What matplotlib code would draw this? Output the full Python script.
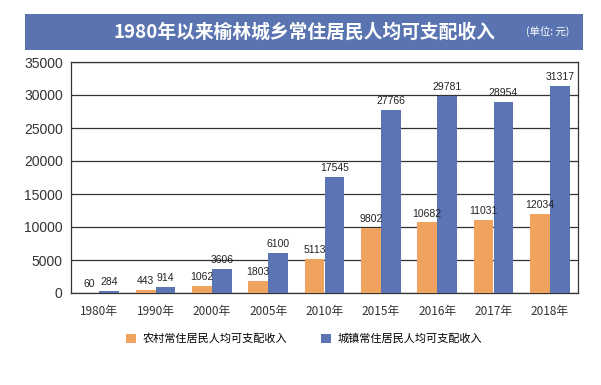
import matplotlib
matplotlib.use("Agg")
import matplotlib.pyplot as plt
import numpy as np
from matplotlib.patches import Rectangle

plt.rcParams['font.family'] = ['Noto Sans CJK SC', 'DejaVu Sans']

years = ["1980年", "1990年", "2000年", "2005年", "2010年", "2015年", "2016年", "2017年", "2018年"]
rural = [60, 443, 1062, 1803, 5113, 9802, 10682, 11031, 12034]
urban = [284, 914, 3606, 6100, 17545, 27766, 29781, 28954, 31317]
series_names = ["农村常住居民人均可支配收入", "城镇常住居民人均可支配收入"]
title = "1980年以来榆林城乡常住居民人均可支配收入"
unit = "(单位: 元)"

c_rural = "#F0A35E"
c_urban = "#5A74B4"

fig = plt.figure(figsize=(6.01, 3.85), dpi=100)
W, H = 601, 385

# Title banner
banner = Rectangle((25 / W, 1 - 50 / H), (583 - 25) / W, 36 / H, transform=fig.transFigure,
                   facecolor="#5A74B2", edgecolor="none")
fig.add_artist(banner)
fig.text(304 / W, 1 - 32 / H, title, color="white", fontsize=13.5, fontweight="bold",
         ha="center", va="center")
fig.text(548 / W, 1 - 32 / H, unit, color="white", fontsize=7.5, ha="center", va="center")

ax = fig.add_axes([71 / W, 1 - 293 / H, (578 - 71) / W, (293 - 62) / H])
x = np.arange(len(years))
w = 0.355
b1 = ax.bar(x - w / 2, rural, w, color=c_rural, label=series_names[0], zorder=3)
b2 = ax.bar(x + w / 2, urban, w, color=c_urban, label=series_names[1], zorder=3)

for xi, v in zip(x, rural):
    ax.text(xi - w / 2, v + 600, str(v), ha="center", va="bottom", fontsize=7.5, color="#222222",
            family="Liberation Sans")
for xi, v in zip(x, urban):
    ax.text(xi + w / 2, v + 600, str(v), ha="center", va="bottom", fontsize=7.5, color="#222222",
            family="Liberation Sans")

ax.set_xlim(-0.5, len(years) - 0.5)
ax.set_ylim(0, 35000)
ax.set_yticks(range(0, 35001, 5000))
ax.set_yticklabels([str(v) for v in range(0, 35001, 5000)], family="Liberation Sans", fontsize=10,
                   color="#333333")
ax.set_xticks(x)
ax.set_xticklabels(years, fontsize=8.5, color="#333333")
ax.tick_params(axis="both", length=0, pad=6)
ax.tick_params(axis="x", pad=9)
ax.yaxis.grid(True, color="#333333", linewidth=0.9, zorder=0)
for s in ax.spines.values():
    s.set_color("#333333")
    s.set_linewidth(0.9)

fig.legend(handles=[b1, b2], labels=series_names, loc="center", bbox_to_anchor=(304 / W, 1 - 339 / H),
           ncol=2, frameon=False, fontsize=8, handlelength=0.9, handleheight=0.9, columnspacing=3.0,
           handletextpad=0.6)

fig.savefig("out.png", dpi=100)
